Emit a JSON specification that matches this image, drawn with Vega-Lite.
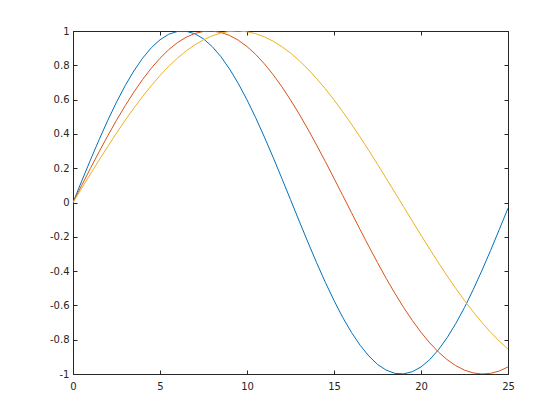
{
  "$schema": "https://vega.github.io/schema/vega-lite/v6.json",
  "autosize": "none",
  "width": 435,
  "height": 343,
  "padding": {"left": 73, "top": 31, "right": 52, "bottom": 46},
  "background": "white",
  "config": {
    "view": {"stroke": "#262626", "strokeWidth": 1},
    "axis": {"grid": false, "domainColor": "#262626", "tickColor": "#262626", "labelColor": "#262626", "labelFont": "DejaVu Sans", "labelFontSize": 10, "tickSize": -4, "title": null}
  },
  "data": {"values": [
    {"x":0,"y":0,"s":"a"},{"x":0.5,"y":0.12467,"s":"a"},{"x":1,"y":0.24740,"s":"a"},{"x":1.5,"y":0.36627,"s":"a"},{"x":2,"y":0.47943,"s":"a"},{"x":2.5,"y":0.58510,"s":"a"},{"x":3,"y":0.68164,"s":"a"},{"x":3.5,"y":0.76754,"s":"a"},{"x":4,"y":0.84147,"s":"a"},{"x":4.5,"y":0.90227,"s":"a"},{"x":5,"y":0.94898,"s":"a"},{"x":5.5,"y":0.98089,"s":"a"},{"x":6,"y":0.99749,"s":"a"},{"x":6.5,"y":0.99853,"s":"a"},{"x":7,"y":0.98399,"s":"a"},{"x":7.5,"y":0.95409,"s":"a"},{"x":8,"y":0.90930,"s":"a"},{"x":8.5,"y":0.85031,"s":"a"},{"x":9,"y":0.77807,"s":"a"},{"x":9.5,"y":0.69370,"s":"a"},{"x":10,"y":0.59847,"s":"a"},{"x":10.5,"y":0.49392,"s":"a"},{"x":11,"y":0.38166,"s":"a"},{"x":11.5,"y":0.26347,"s":"a"},{"x":12,"y":0.14112,"s":"a"},{"x":12.5,"y":0.01659,"s":"a"},{"x":13,"y":-0.10820,"s":"a"},{"x":13.5,"y":-0.23108,"s":"a"},{"x":14,"y":-0.35078,"s":"a"},{"x":14.5,"y":-0.46511,"s":"a"},{"x":15,"y":-0.57156,"s":"a"},{"x":15.5,"y":-0.66971,"s":"a"},{"x":16,"y":-0.75680,"s":"a"},{"x":16.5,"y":-0.83226,"s":"a"},{"x":17,"y":-0.89499,"s":"a"},{"x":17.5,"y":-0.94398,"s":"a"},{"x":18,"y":-0.97753,"s":"a"},{"x":18.5,"y":-0.99626,"s":"a"},{"x":19,"y":-0.99931,"s":"a"},{"x":19.5,"y":-0.98663,"s":"a"},{"x":20,"y":-0.95892,"s":"a"},{"x":20.5,"y":-0.91663,"s":"a"},{"x":21,"y":-0.85893,"s":"a"},{"x":21.5,"y":-0.78859,"s":"a"},{"x":22,"y":-0.70554,"s":"a"},{"x":22.5,"y":-0.61208,"s":"a"},{"x":23,"y":-0.50828,"s":"a"},{"x":23.5,"y":-0.39690,"s":"a"},{"x":24,"y":-0.27942,"s":"a"},{"x":24.5,"y":-0.15736,"s":"a"},{"x":25,"y":-0.03318,"s":"a"},
    {"x":0,"y":0,"s":"b"},{"x":0.5,"y":0.09983,"s":"b"},{"x":1,"y":0.19867,"s":"b"},{"x":1.5,"y":0.29552,"s":"b"},{"x":2,"y":0.38942,"s":"b"},{"x":2.5,"y":0.47943,"s":"b"},{"x":3,"y":0.56464,"s":"b"},{"x":3.5,"y":0.64422,"s":"b"},{"x":4,"y":0.71736,"s":"b"},{"x":4.5,"y":0.78333,"s":"b"},{"x":5,"y":0.84147,"s":"b"},{"x":5.5,"y":0.89121,"s":"b"},{"x":6,"y":0.93204,"s":"b"},{"x":6.5,"y":0.96356,"s":"b"},{"x":7,"y":0.98545,"s":"b"},{"x":7.5,"y":0.99749,"s":"b"},{"x":8,"y":0.99957,"s":"b"},{"x":8.5,"y":0.99166,"s":"b"},{"x":9,"y":0.97385,"s":"b"},{"x":9.5,"y":0.94630,"s":"b"},{"x":10,"y":0.90930,"s":"b"},{"x":10.5,"y":0.86321,"s":"b"},{"x":11,"y":0.80850,"s":"b"},{"x":11.5,"y":0.74571,"s":"b"},{"x":12,"y":0.67546,"s":"b"},{"x":12.5,"y":0.59847,"s":"b"},{"x":13,"y":0.51550,"s":"b"},{"x":13.5,"y":0.42738,"s":"b"},{"x":14,"y":0.33499,"s":"b"},{"x":14.5,"y":0.23925,"s":"b"},{"x":15,"y":0.14112,"s":"b"},{"x":15.5,"y":0.04158,"s":"b"},{"x":16,"y":-0.05837,"s":"b"},{"x":16.5,"y":-0.15775,"s":"b"},{"x":17,"y":-0.25554,"s":"b"},{"x":17.5,"y":-0.35078,"s":"b"},{"x":18,"y":-0.44252,"s":"b"},{"x":18.5,"y":-0.52984,"s":"b"},{"x":19,"y":-0.61186,"s":"b"},{"x":19.5,"y":-0.68777,"s":"b"},{"x":20,"y":-0.75680,"s":"b"},{"x":20.5,"y":-0.81828,"s":"b"},{"x":21,"y":-0.87158,"s":"b"},{"x":21.5,"y":-0.91617,"s":"b"},{"x":22,"y":-0.95160,"s":"b"},{"x":22.5,"y":-0.97753,"s":"b"},{"x":23,"y":-0.99369,"s":"b"},{"x":23.5,"y":-0.99992,"s":"b"},{"x":24,"y":-0.99616,"s":"b"},{"x":24.5,"y":-0.98245,"s":"b"},{"x":25,"y":-0.95892,"s":"b"},
    {"x":0,"y":0,"s":"c"},{"x":0.5,"y":0.08324,"s":"c"},{"x":1,"y":0.16589,"s":"c"},{"x":1.5,"y":0.24740,"s":"c"},{"x":2,"y":0.32719,"s":"c"},{"x":2.5,"y":0.40474,"s":"c"},{"x":3,"y":0.47943,"s":"c"},{"x":3.5,"y":0.55077,"s":"c"},{"x":4,"y":0.61837,"s":"c"},{"x":4.5,"y":0.68164,"s":"c"},{"x":5,"y":0.74017,"s":"c"},{"x":5.5,"y":0.79367,"s":"c"},{"x":6,"y":0.84147,"s":"c"},{"x":6.5,"y":0.88345,"s":"c"},{"x":7,"y":0.91927,"s":"c"},{"x":7.5,"y":0.94898,"s":"c"},{"x":8,"y":0.97193,"s":"c"},{"x":8.5,"y":0.98817,"s":"c"},{"x":9,"y":0.99749,"s":"c"},{"x":9.5,"y":0.99991,"s":"c"},{"x":10,"y":0.99541,"s":"c"},{"x":10.5,"y":0.98399,"s":"c"},{"x":11,"y":0.96575,"s":"c"},{"x":11.5,"y":0.94078,"s":"c"},{"x":12,"y":0.90930,"s":"c"},{"x":12.5,"y":0.87152,"s":"c"},{"x":13,"y":0.82761,"s":"c"},{"x":13.5,"y":0.77807,"s":"c"},{"x":14,"y":0.72307,"s":"c"},{"x":14.5,"y":0.66314,"s":"c"},{"x":15,"y":0.59847,"s":"c"},{"x":15.5,"y":0.52966,"s":"c"},{"x":16,"y":0.45729,"s":"c"},{"x":16.5,"y":0.38166,"s":"c"},{"x":17,"y":0.30340,"s":"c"},{"x":17.5,"y":0.22303,"s":"c"},{"x":18,"y":0.14112,"s":"c"},{"x":18.5,"y":0.05823,"s":"c"},{"x":19,"y":-0.02507,"s":"c"},{"x":19.5,"y":-0.10820,"s":"c"},{"x":20,"y":-0.19057,"s":"c"},{"x":20.5,"y":-0.27162,"s":"c"},{"x":21,"y":-0.35078,"s":"c"},{"x":21.5,"y":-0.42752,"s":"c"},{"x":22,"y":-0.50127,"s":"c"},{"x":22.5,"y":-0.57156,"s":"c"},{"x":23,"y":-0.63782,"s":"c"},{"x":23.5,"y":-0.69967,"s":"c"},{"x":24,"y":-0.75680,"s":"c"},{"x":24.5,"y":-0.80865,"s":"c"},{"x":25,"y":-0.85471,"s":"c"}
  ]},
  "layer": [
    {
      "mark": {"type": "line", "strokeWidth": 1, "clip": true},
      "encoding": {
        "x": {"field": "x", "type": "quantitative", "scale": {"domain": [0, 25], "nice": false},
          "axis": {"values": [0, 5, 10, 15, 20, 25], "labelPadding": 11, "labelFlush": false}},
        "y": {"field": "y", "type": "quantitative", "scale": {"domain": [-1, 1], "nice": false},
          "axis": {"values": [-1, -0.8, -0.6, -0.4, -0.2, 0, 0.2, 0.4, 0.6, 0.8, 1], "format": ".1~f", "labelExpr": "replace(datum.label, '\u2212', '-')", "labelPadding": 8, "labelFlush": false}},
        "color": {"field": "s", "type": "nominal", "scale": {"domain": ["a", "b", "c"], "range": ["#0072BD", "#D95319", "#EDB120"]}, "legend": null}
      }
    },
    {
      "mark": {"type": "point", "opacity": 0},
      "encoding": {
        "x": {"field": "x", "type": "quantitative",
          "axis": {"orient": "top", "values": [0, 5, 10, 15, 20, 25], "labels": false}},
        "y": {"field": "y", "type": "quantitative",
          "axis": {"orient": "right", "values": [-1, -0.8, -0.6, -0.4, -0.2, 0, 0.2, 0.4, 0.6, 0.8, 1], "labels": false}}
      }
    }
  ],
  "resolve": {"axis": {"x": "independent", "y": "independent"}}
}
